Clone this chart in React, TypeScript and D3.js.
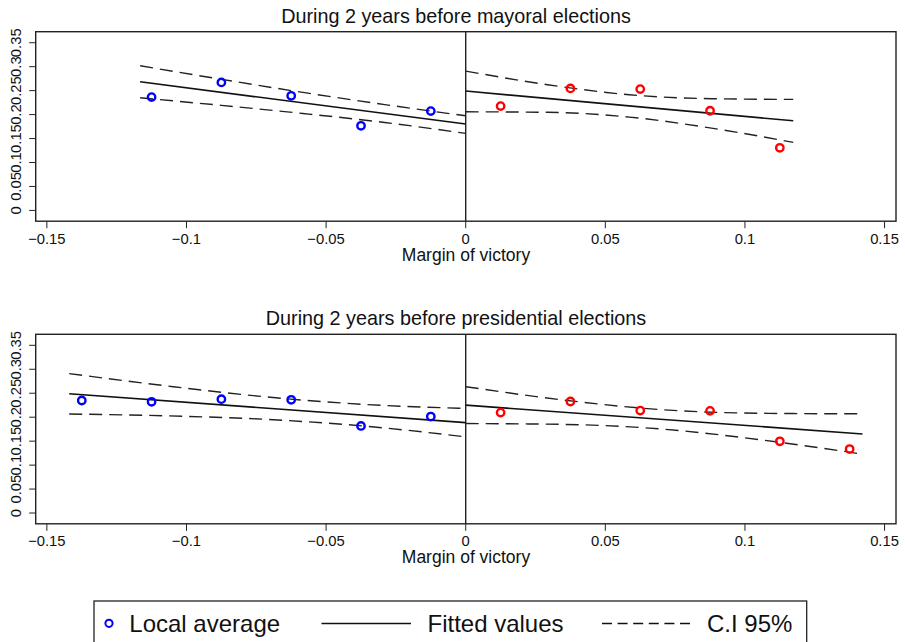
import React from "react";
import * as d3 from "d3";

// ---- data ----
const xTicks = [-0.15, -0.1, -0.05, 0, 0.05, 0.1, 0.15];
const xTickLabels = ["\u22120.15", "\u22120.1", "\u22120.05", "0", "0.05", "0.1", "0.15"];
const yTicks = [0, 0.05, 0.1, 0.15, 0.2, 0.25, 0.3, 0.35];
const yTickLabels = ["0", "0.05", "0.1", "0.15", "0.2", "0.25", "0.3", "0.35"];

const panelTitles = [
  "During 2 years before mayoral elections",
  "During 2 years before presidential elections",
];
const xAxisTitle = "Margin of victory";

// Panel 1: mayoral
const mayorLeftX = [-0.1125, -0.0875, -0.0625, -0.0375, -0.0125];
const mayorLeftY = [0.2365, 0.2672, 0.2392, 0.1766, 0.2073];
const mayorRightX = [0.0125, 0.0375, 0.0625, 0.0875, 0.1125];
const mayorRightY = [0.2177, 0.2547, 0.2532, 0.208, 0.1307];
const mayorFitLeftX = [-0.1166, 0];
const mayorFitLeftY = [0.2685, 0.1802];
const mayorFitRightX = [0, 0.1173];
const mayorFitRightY = [0.2491, 0.187];
const mayorCiLeftX = [-0.1166, -0.0875, -0.0583, -0.029, 0];
const mayorCiLeftUp = [0.3019, 0.2736, 0.2463, 0.2209, 0.1975];
const mayorCiLeftLo = [0.2351, 0.2192, 0.2023, 0.1835, 0.1608];
const mayorCiRightX = [0, 0.0293, 0.0586, 0.088, 0.1173];
const mayorCiRightUp = [0.2908, 0.2624, 0.2414, 0.2332, 0.2317];
const mayorCiRightLo = [0.2058, 0.2048, 0.1948, 0.1718, 0.142];

// Panel 2: presidential
const presLeftX = [-0.1375, -0.1125, -0.0875, -0.0625, -0.0375, -0.0125];
const presLeftY = [0.2348, 0.2321, 0.2377, 0.2363, 0.1818, 0.2013];
const presRightX = [0.0125, 0.0375, 0.0625, 0.0875, 0.1125, 0.1375];
const presRightY = [0.2096, 0.2327, 0.2138, 0.2132, 0.1497, 0.1335];
const presFitLeftX = [-0.142, 0];
const presFitLeftY = [0.2488, 0.1887];
const presFitRightX = [0, 0.1421];
const presFitRightY = [0.2252, 0.165];
const presCiLeftX = [-0.142, -0.1065, -0.071, -0.0355, 0];
const presCiLeftUp = [0.291, 0.2649, 0.2421, 0.2264, 0.2184];
const presCiLeftLo = [0.2066, 0.2027, 0.1953, 0.181, 0.159];
const presCiRightX = [0, 0.0355, 0.071, 0.1065, 0.142];
const presCiRightUp = [0.2637, 0.2355, 0.2153, 0.2081, 0.207];
const presCiRightLo = [0.1867, 0.1849, 0.1749, 0.1521, 0.123];

const legendLabels = ["Local average", "Fitted values", "C.I 95%"];

const FONT = "'Liberation Sans', Arial, Helvetica, sans-serif";

const zip = (xs: number[], ys: number[]) => xs.map((x, i) => [x, ys[i]] as [number, number]);

type Panel = {
  title: string;
  top: number;
  left: { x: number[]; y: number[] };
  right: { x: number[]; y: number[] };
  fits: [number[], number[]][];
  cis: [number[], number[]][];
};

const panels: Panel[] = [
  {
    title: panelTitles[0],
    top: 31.7,
    left: { x: mayorLeftX, y: mayorLeftY },
    right: { x: mayorRightX, y: mayorRightY },
    fits: [
      [mayorFitLeftX, mayorFitLeftY],
      [mayorFitRightX, mayorFitRightY],
    ],
    cis: [
      [mayorCiLeftX, mayorCiLeftUp],
      [mayorCiLeftX, mayorCiLeftLo],
      [mayorCiRightX, mayorCiRightUp],
      [mayorCiRightX, mayorCiRightLo],
    ],
  },
  {
    title: panelTitles[1],
    top: 334.3,
    left: { x: presLeftX, y: presLeftY },
    right: { x: presRightX, y: presRightY },
    fits: [
      [presFitLeftX, presFitLeftY],
      [presFitRightX, presFitRightY],
    ],
    cis: [
      [presCiLeftX, presCiLeftUp],
      [presCiLeftX, presCiLeftLo],
      [presCiRightX, presCiRightUp],
      [presCiRightX, presCiRightLo],
    ],
  },
];

const PLOT_LEFT = 35.7;
const PLOT_RIGHT = 896;
const PLOT_H = 189.5;

function PanelView({ p }: { p: Panel }) {
  const x = d3.scaleLinear().domain([-0.154, 0.1541]).range([PLOT_LEFT, PLOT_RIGHT]);
  const y = d3.scaleLinear().domain([-0.0225, 0.373]).range([p.top + PLOT_H, p.top]);
  const bottom = p.top + PLOT_H;
  const lineStraight = d3
    .line<[number, number]>()
    .x((d) => x(d[0]))
    .y((d) => y(d[1]));
  const lineCurve = d3
    .line<[number, number]>()
    .x((d) => x(d[0]))
    .y((d) => y(d[1]))
    .curve(d3.curveMonotoneX);
  return (
    <g>
      <text
        x={456}
        y={p.top - 9}
        textAnchor="middle"
        fontFamily={FONT}
        fontSize={19.8}
        fill="#111"
      >
        {p.title}
      </text>
      {/* frame */}
      <rect
        x={PLOT_LEFT}
        y={p.top}
        width={PLOT_RIGHT - PLOT_LEFT}
        height={PLOT_H}
        fill="none"
        stroke="#222"
        strokeWidth={1.4}
      />
      {/* zero line */}
      <line x1={x(0)} x2={x(0)} y1={p.top} y2={bottom} stroke="#222" strokeWidth={1.4} />
      {/* y ticks */}
      {yTicks.map((t, i) => (
        <g key={"y" + i}>
          <line x1={PLOT_LEFT - 6.5} x2={PLOT_LEFT} y1={y(t)} y2={y(t)} stroke="#222" strokeWidth={1} />
          <text
            transform={`translate(20.5, ${y(t)}) rotate(-90)`}
            textAnchor="middle"
            fontFamily={FONT}
            fontSize={14.8}
            fill="#111"
          >
            {yTickLabels[i]}
          </text>
        </g>
      ))}
      {/* x ticks */}
      {xTicks.map((t, i) => (
        <g key={"x" + i}>
          <line x1={x(t)} x2={x(t)} y1={bottom} y2={bottom + 7} stroke="#222" strokeWidth={1} />
          <text
            x={x(t)}
            y={bottom + 22.3}
            textAnchor="middle"
            fontFamily={FONT}
            fontSize={14.8}
            fill="#111"
          >
            {xTickLabels[i]}
          </text>
        </g>
      ))}
      <text
        x={466}
        y={bottom + 39.5}
        textAnchor="middle"
        fontFamily={FONT}
        fontSize={17.5}
        fill="#111"
      >
        {xAxisTitle}
      </text>
      {/* CI dashed */}
      {p.cis.map(([xs, ys], i) => (
        <path
          key={"ci" + i}
          d={lineCurve(zip(xs, ys)) || ""}
          fill="none"
          stroke="#222"
          strokeWidth={1.4}
          strokeDasharray="13,7"
        />
      ))}
      {/* fitted */}
      {p.fits.map(([xs, ys], i) => (
        <path
          key={"fit" + i}
          d={lineStraight(zip(xs, ys)) || ""}
          fill="none"
          stroke="#111"
          strokeWidth={1.6}
        />
      ))}
      {/* points */}
      {p.left.x.map((v, i) => (
        <circle
          key={"l" + i}
          cx={x(v)}
          cy={y(p.left.y[i])}
          r={3.7}
          fill="none"
          stroke="#0000ff"
          strokeWidth={2.4}
        />
      ))}
      {p.right.x.map((v, i) => (
        <circle
          key={"r" + i}
          cx={x(v)}
          cy={y(p.right.y[i])}
          r={3.7}
          fill="none"
          stroke="#ff0000"
          strokeWidth={2.4}
        />
      ))}
    </g>
  );
}

function Legend() {
  return (
    <g>
      <rect x={94} y={601} width={712.7} height={60} fill="none" stroke="#222" strokeWidth={1.3} />
      <circle cx={109} cy={623.3} r={3.6} fill="none" stroke="#0000ff" strokeWidth={2} />
      <text x={129.3} y={631.7} fontFamily={FONT} fontSize={24} fill="#111">
        {legendLabels[0]}
      </text>
      <line x1={321.5} x2={411} y1={623.5} y2={623.5} stroke="#111" strokeWidth={1.6} />
      <text x={427.5} y={631.7} fontFamily={FONT} fontSize={24} fill="#111">
        {legendLabels[1]}
      </text>
      <line
        x1={602}
        x2={690}
        y1={623.5}
        y2={623.5}
        stroke="#111"
        strokeWidth={1.6}
        strokeDasharray="10,5.6"
      />
      <text x={707} y={631.7} fontFamily={FONT} fontSize={24} fill="#111">
        {legendLabels[2]}
      </text>
    </g>
  );
}

export default function App() {
  return (
    <svg
      width={905}
      height={642}
      viewBox="0 0 905 642"
      style={{ position: "absolute", left: 0, top: 0, background: "#fff", display: "block" }}
    >
      <rect x={0} y={0} width={905} height={642} fill="#fff" />
      {panels.map((p, i) => (
        <PanelView key={i} p={p} />
      ))}
      <Legend />
    </svg>
  );
}
